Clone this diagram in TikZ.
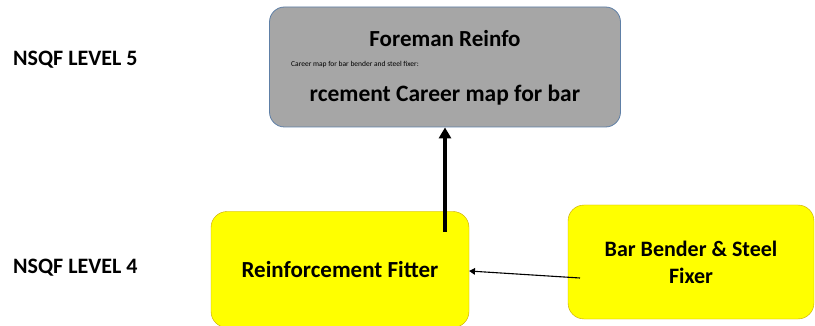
\documentclass[tikz,border=0pt]{standalone}
\usepackage{fontspec}
\setmainfont{Carlito}
\usepackage{xcolor}
\usetikzlibrary{arrows.meta,positioning}
\definecolor{boxgray}{HTML}{A6A6A6}
\definecolor{grayline}{HTML}{5E7FA6}
\definecolor{boxyellow}{HTML}{FFFF00}
\definecolor{yellowline}{HTML}{C8A400}

\begin{document}
\begin{tikzpicture}[x=1pt, y=-1pt, >=Triangle,
  level/.style={font=\bfseries\fontsize{22}{24}\selectfont, anchor=west, inner sep=0pt},
  graybox/.style={draw=grayline, line width=0.8pt, fill=boxgray, rounded corners=15pt, minimum width=351pt, minimum height=120pt},
  yellowbox/.style={draw=yellowline, fill=boxyellow, rounded corners=16pt, align=center,
    font=\bfseries\fontsize{23}{27}\selectfont}]
\useasboundingbox (0,0) rectangle (815,326);

% ---------- level labels
\node[level] (lvlfive) at (13,60) {NSQF LEVEL 5};
\node[level] (lvlfour) at (13,268) {NSQF LEVEL 4};

% ---------- level 5 box
\node[graybox] (foreman) at (445,67) {};
\node[font=\bfseries\fontsize{23}{26}\selectfont] (foremantop) at (445,39) {Foreman Reinfo};
\node[font=\fontsize{7.5}{8}\selectfont, anchor=west, inner sep=0pt] (foremansmall) at (291,65) {Career map for bar bender and steel fixer:};
\node[font=\bfseries\fontsize{23.5}{26}\selectfont] (foremanbot) at (445,95) {rcement Career map for bar};

% ---------- level 4 boxes
\node[yellowbox, minimum width=258pt, minimum height=116pt] (fitter) at (340,269.5) {Reinforcement Fitter};
\node[yellowbox, minimum width=246pt, minimum height=114pt, font=\bfseries\fontsize{22}{27}\selectfont] (bender) at (691,262) {Bar Bender \& Steel\\Fixer};

% ---------- connectors
\coordinate (fitterup) at (445,232);
\coordinate (benderin) at (580,278);
\draw[line width=3.2pt, {Triangle[length=11pt,width=12pt]}-] (foreman.south) -- (fitterup);
\draw[->, line width=1.1pt] (benderin) -- ([yshift=-1.5pt]fitter.east);
\end{tikzpicture}
\end{document}
